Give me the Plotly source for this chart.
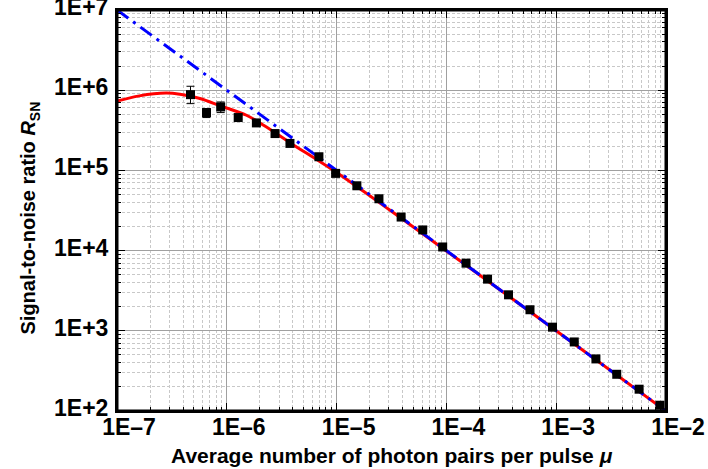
import plotly.graph_objects as go

# ---- data ----
mu_data = [4.67e-7, 6.53e-7, 8.8e-7, 1.27e-6, 1.86e-6, 2.75e-6, 3.76e-6, 6.9e-6, 9.8e-6,
           1.53e-5, 2.43e-5, 3.87e-5, 6.09e-5, 9.25e-5, 1.51e-4, 2.37e-4, 3.68e-4, 5.77e-4,
           9.25e-4, 1.46e-3, 2.30e-3, 3.56e-3, 5.69e-3, 8.81e-3]
rsn_data = [8.8e5, 5.26e5, 6.18e5, 4.56e5, 3.91e5, 2.88e5, 2.17e5, 1.48e5, 9.18e4,
            6.43e4, 4.43e4, 2.62e4, 1.81e4, 1.11e4, 6.97e3, 4.41e3, 2.81e3, 1.83e3,
            1.11e3, 726, 446, 287, 187, 118]
err_plus = [2.4e5, 0.65e5, 0.95e5, 0.2e5] + [0] * 20
err_minus = [2.0e5, 0.7e5, 0.92e5, 0.2e5] + [0] * 20

mu_theory = [1e-7, 1.6e-7, 2.8e-7, 3.74e-7, 5.69e-7, 8.8e-7, 1.51e-6, 2.2e-6, 3.7e-6,
             1e-5, 3e-5, 1e-4, 1e-3, 1e-2]
rsn_theory = [7.3e5, 8.5e5, 9.2e5, 8.9e5, 7.87e5, 6.36e5, 4.87e5, 3.6e5, 2.25e5,
              9.4e4, 3.25e4, 9.9e3, 1e3, 1e2]

mu_ideal = [1e-7, 1e-2]
rsn_ideal = [1e7, 1e2]

x_ticks = [1e-7, 1e-6, 1e-5, 1e-4, 1e-3, 1e-2]
x_ticktext = ["1E\u20137", "1E\u20136", "1E\u20135", "1E\u20134", "1E\u20133", "1E\u20132"]
y_ticks = [1e2, 1e3, 1e4, 1e5, 1e6, 1e7]
y_ticktext = ["1E+2", "1E+3", "1E+4", "1E+5", "1E+6", "1E+7"]

x_minor = [m * 10.0 ** e for e in range(-7, -2) for m in range(2, 10)]
y_minor = [m * 10.0 ** e for e in range(2, 7) for m in range(2, 10)]

FONT = "Liberation Sans, Arial, sans-serif"
EPS = 1e-6

fig = go.Figure()
fig.add_trace(go.Scatter(x=mu_theory, y=rsn_theory, mode="lines", line_shape="spline",
                         line=dict(color="#ff0000", width=3), showlegend=False))
fig.add_trace(go.Scatter(x=mu_ideal, y=rsn_ideal, mode="lines",
                         line=dict(color="#0000ff", width=3, dash="14px,6px,3px,6px"),
                         showlegend=False))
fig.add_trace(go.Scatter(x=mu_data, y=rsn_data, mode="markers",
                         marker=dict(symbol="square", size=9, color="black"),
                         error_y=dict(type="data", array=err_plus, arrayminus=err_minus,
                                      color="black", thickness=1, width=4),
                         showlegend=False))

axis_common = dict(
    type="log", showline=True, linewidth=2, linecolor="black", mirror="ticks",
    ticks="inside", ticklen=8, tickwidth=1, tickcolor="black",
    showgrid=True, gridcolor="#a0a0a0", gridwidth=1, zeroline=False,
    tickfont=dict(family=FONT, size=23, color="black", weight="bold"),
    tickmode="array", automargin=False, ticklabeloverflow="allow",
)
minor_common = dict(tickmode="array", ticks="inside", ticklen=4, tickcolor="black",
                    showgrid=True, gridcolor="#c8c8c8", griddash="3px,2px", gridwidth=1)

fig.update_xaxes(**axis_common, range=[-7 - EPS, -2 + EPS], tickvals=x_ticks,
                 ticktext=x_ticktext, ticklabelshift=12, ticklabelstandoff=-6,
                 minor=dict(**minor_common, tickvals=x_minor))
fig.update_yaxes(**axis_common, range=[2 - EPS, 7 + EPS], tickvals=y_ticks,
                 ticktext=y_ticktext, ticklabelstandoff=2, ticklabelshift=-3,
                 minor=dict(**minor_common, tickvals=y_minor))

fig.add_shape(type="rect", xref="paper", yref="paper", x0=0, x1=1, y0=0, y1=1,
              line=dict(color="black", width=3), layer="above")

fig.add_annotation(text="<b>Average number of photon pairs per pulse <i>\u03bc</i></b>",
                   xref="paper", yref="paper", x=0.5, y=-0.11, xanchor="center",
                   yanchor="middle", showarrow=False,
                   font=dict(family=FONT, size=21, color="black"))
fig.add_annotation(text="<b>Signal-to-noise ratio <i>R</i><sub>SN</sub></b>",
                   xref="paper", yref="paper", x=-0.1585, y=0.4825, xanchor="center",
                   yanchor="middle", textangle=-90, showarrow=False,
                   font=dict(family=FONT, size=20, color="black"))

fig.update_layout(width=708, height=469, margin=dict(l=117, r=42, t=10, b=58),
                  plot_bgcolor="white", paper_bgcolor="white")

fig.write_html("out.html", config={"displayModeBar": False},
               post_script="document.body.style.margin='0';document.body.style.padding='0';"
                           "document.documentElement.style.overflow='hidden';")
